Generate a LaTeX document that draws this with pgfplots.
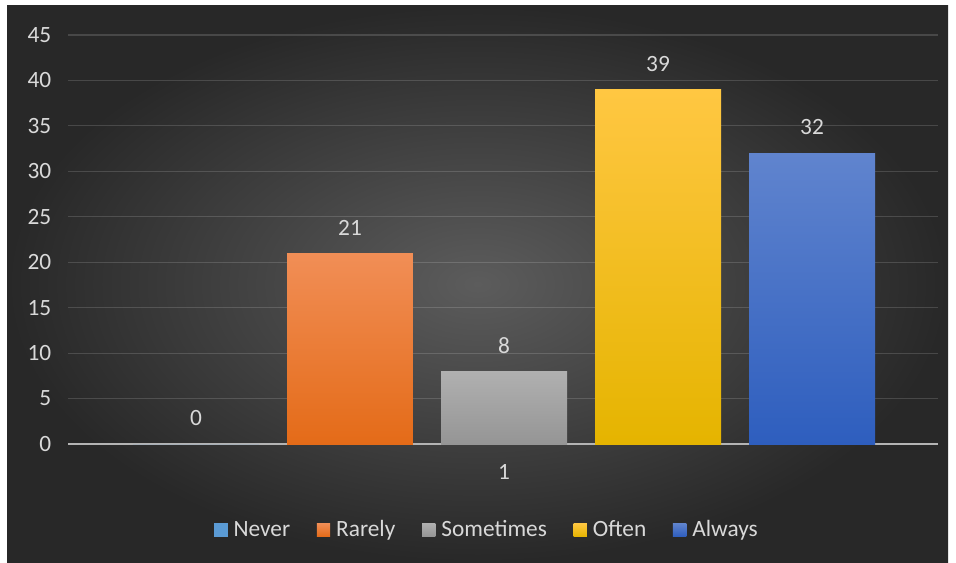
\documentclass[border=0pt]{standalone}
\usepackage{pgfplots}
\pgfplotsset{compat=1.18}
\usepackage{fontspec}
\setmainfont{Carlito}
\definecolor{bgin}{HTML}{5C5C5C}
\definecolor{bgout}{HTML}{282828}
\definecolor{txt}{HTML}{D9D9D9}
\definecolor{axgray}{HTML}{B4B4B4}
\definecolor{nevc}{HTML}{5B9BD5}
\definecolor{rart}{HTML}{F18E56}
\definecolor{rarb}{HTML}{E46B18}
\definecolor{somt}{HTML}{B0B0B0}
\definecolor{somb}{HTML}{959595}
\definecolor{ofst}{HTML}{FFC742}
\definecolor{ofsb}{HTML}{E5B400}
\definecolor{alwt}{HTML}{6084CE}
\definecolor{alwb}{HTML}{2E5EBE}
\newcommand{\cf}{\fontsize{17.5}{21}\selectfont}
\begin{document}
\begin{tikzpicture}
\fill[white] (0pt,0pt) rectangle (717pt,-422.25pt);
\shade[inner color=bgin, outer color=bgout] (5.25pt,-4.5pt) rectangle (711pt,-421.5pt);
\begin{axis}[
  at={(51pt,-333pt)}, anchor=south west,
  scale only axis, width=652.5pt, height=306.75pt,
  ymin=0, ymax=45, ytick={0,5,...,45},
  xmin=-2.831, xmax=2.818, xtick={0}, xticklabels={1},
  axis line style={draw=none}, major tick length=0pt,
  ymajorgrids, grid style={draw=white, draw opacity=0.15, line width=0.9pt},
  extra y ticks={0}, extra y tick labels={},
  extra y tick style={grid style={draw=axgray, draw opacity=1, line width=1.3pt}},
  /pgf/number format/assume math mode=true,
  tick label style={font=\cf, text=txt},
  yticklabel style={xshift=-9pt},
  xticklabel style={yshift=-12pt},
  ybar, bar width=0.818, bar shift=0pt,
  nodes near coords,
  every node near coord/.append style={font=\cf, text=txt, yshift=10pt},
  legend columns=5,
  legend style={draw=none, fill=none, at={(0.482,-0.21)}, anchor=center,
    font=\cf, text=txt,
    /tikz/every odd column/.append style={column sep=2.5pt},
    /tikz/every even column/.append style={column sep=18pt}},
  legend image code/.code={\fill[#1] (0pt,-5pt) rectangle (10pt,5pt);},
]
\addplot[fill=nevc, draw=none] coordinates {(-2,0)};
\addlegendentry{Never}
\addplot[top color=rart, bottom color=rarb, fill=rart, draw=none] coordinates {(-1,21)};
\addlegendentry{Rarely}
\addplot[top color=somt, bottom color=somb, fill=somt, draw=none] coordinates {(0,8)};
\addlegendentry{Sometimes}
\addplot[top color=ofst, bottom color=ofsb, fill=ofst, draw=none] coordinates {(1,39)};
\addlegendentry{Often}
\addplot[top color=alwt, bottom color=alwb, fill=alwt, draw=none] coordinates {(2,32)};
\addlegendentry{Always}
\end{axis}
\end{tikzpicture}
\end{document}
